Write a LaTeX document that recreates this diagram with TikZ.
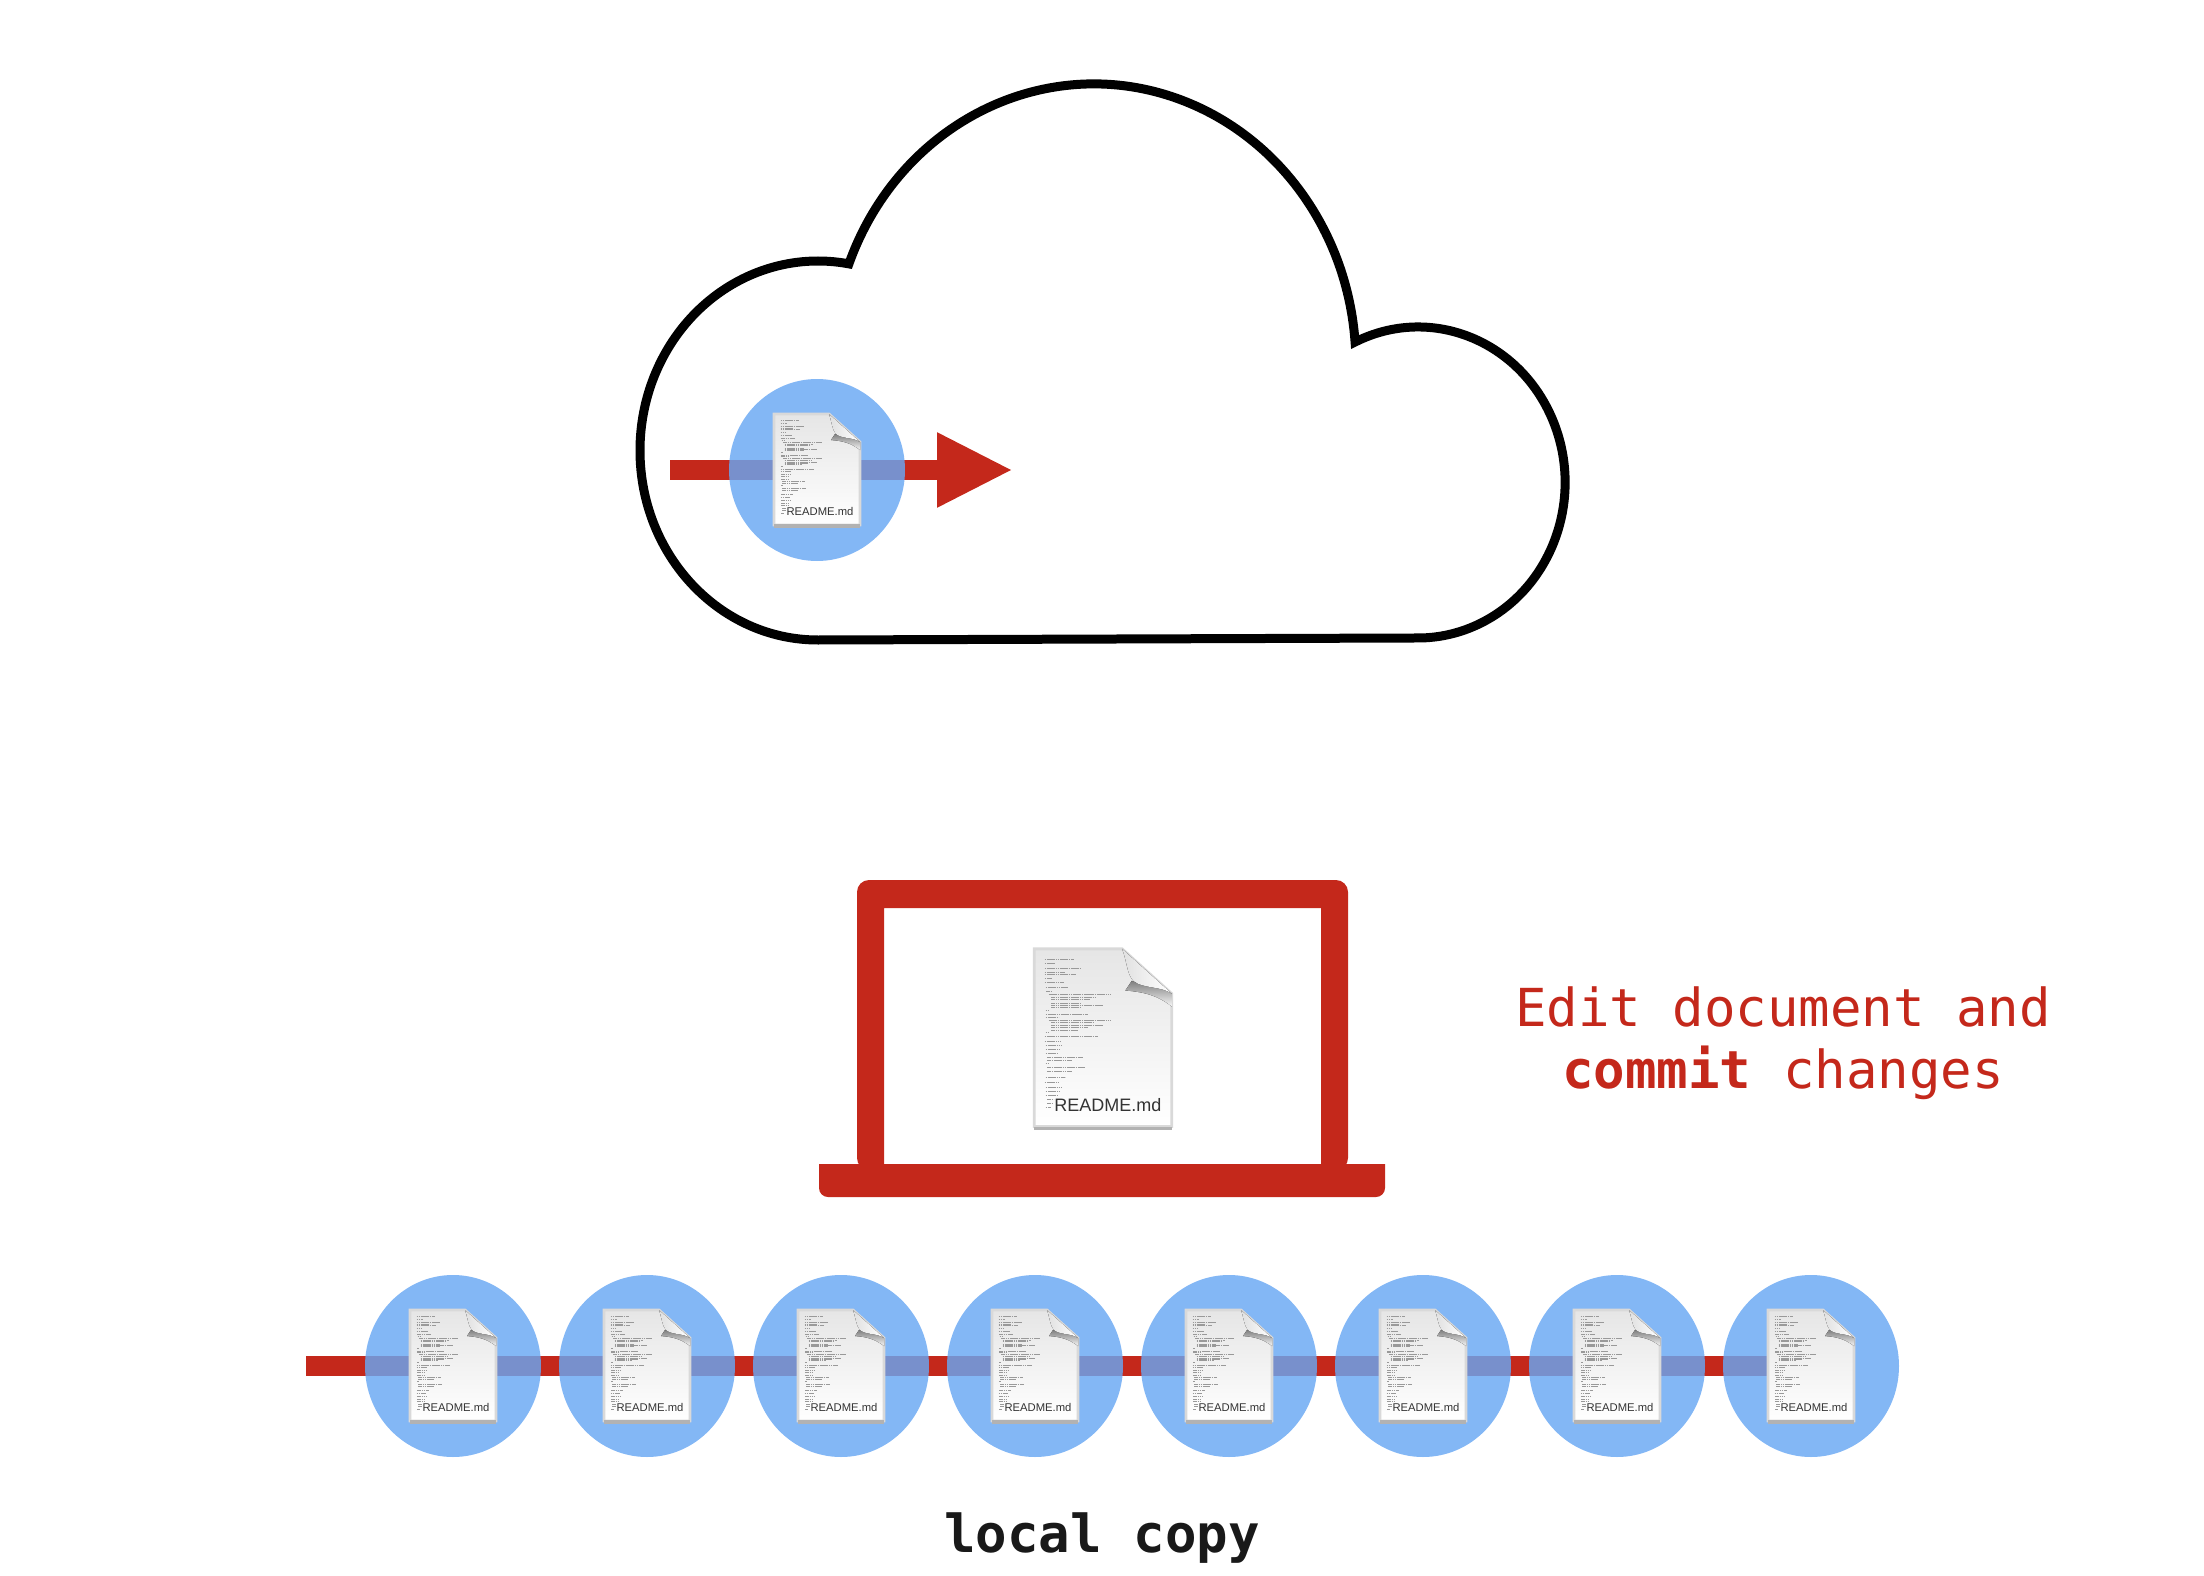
\documentclass[tikz,border=0pt]{standalone}
\usepackage{fontspec}
\setmonofont{DejaVu Sans Mono}
\newfontfamily\labelfont{Liberation Sans}
\usetikzlibrary{arrows.meta,shapes.geometric,backgrounds}
\definecolor{commitred}{HTML}{C4281B}
\definecolor{discblue}{RGB}{104,167,243}

\begin{document}
\begin{tikzpicture}[font=\ttfamily,
  disc/.style={ellipse,fill=discblue,fill opacity=.825,minimum width=1.76cm,minimum height=1.82cm,inner sep=0pt},
  hist/.style={draw=commitred,line width=.2cm},
  msg/.style={text=commitred,align=center,font=\ttfamily\fontsize{14.9}{17.6}\selectfont},
  readme/.pic={
    \fill[top color=black!10,bottom color=white,draw=black!15,line width=.8pt]
      (-.43,.56) -- (.12,.56) -- (.43,.28) -- (.43,-.55) -- (-.43,-.55) -- cycle;
    \draw[black!30,line width=.9pt] (-.43,-.56) -- (.43,-.56);
    \begin{scope}[shift={(-.747,.733)},x=.00204cm,y=-.00206cm]
      \foreach \a/\b/\c in {116/187/278,128/187/218,142/187/300,155/187/250,160/187/282,173/187/210,
        186/187/245,200/190/258,211/192/210,223/200/390,230/207/345,237/207/325,250/207/300,255/207/365,
        262/207/300,270/190/198,282/190/320,290/190/230,300/200/390,308/207/340,316/207/365,322/207/320,
        330/207/290,338/190/198,350/187/350,364/187/238,376/190/240,388/190/232,400/190/228,412/195/305,
        422/195/270,432/190/198,444/195/310,455/195/270,472/190/250,490/187/232,504/190/240,516/190/232,
        528/190/228,540/195/215,552/195/212,564/190/205}
        \draw[black!40,line width=.14pt,dash pattern=on .5pt off .12pt] (\b,\a) -- (\c,\a);
    \end{scope}
    \fill[top color=black!50,bottom color=black!3]
      (.18,.36) .. controls (.24,.33) and (.36,.33) .. (.43,.28) -- (.43,.2) .. controls (.34,.27) and (.26,.29) .. (.14,.3) -- cycle;
    \fill[left color=black!12,right color=white]
      (.12,.56) .. controls (.15,.48) and (.15,.4) .. (.19,.36) .. controls (.25,.31) and (.36,.33) .. (.43,.28) -- cycle;
    \node[transform shape,anchor=base,text=black!80,inner sep=0pt,font=\labelfont\fontsize{3.2}{4}\selectfont] (-label) at (.03,-.455) {README.md};
  }]
  \useasboundingbox (0,0) rectangle (22.04,-15.76);

  % cloud
  \draw[line width=.09cm] (8.18,-6.40)
    arc[start angle=270,end angle=80,x radius=1.78cm,y radius=1.895cm]
    arc[start angle=159.2,end angle=4.3,x radius=2.62cm,y radius=2.79cm]
    arc[start angle=115.4,end angle=-90,x radius=1.47cm,y radius=1.555cm]
    -- cycle;

  % remote copy
  \coordinate (rstart) at (6.70,-4.70);
  \coordinate (rtip) at (10.13,-4.70);
  \node[disc] (rdoc) at (8.17,-4.70) {};
  \pic (rpic) at (rdoc) {readme};
  \begin{pgfonlayer}{background}
    \draw[hist,-{Triangle[length=7.6mm,width=6.95mm]}] (rstart) -- (rtip);
  \end{pgfonlayer}

  % laptop
  \fill[commitred,even odd rule,rounded corners=.12cm] (8.57,-11.70) -- (8.57,-8.80) -- (13.48,-8.80) -- (13.48,-11.70) -- cycle
    [sharp corners] (8.84,-11.70) -- (8.84,-9.08) -- (13.21,-9.08) -- (13.21,-11.70) -- cycle;
  \fill[commitred] (8.19,-11.64) -- (13.85,-11.64) [rounded corners=.09cm] -- (13.85,-11.97) -- (8.19,-11.97) [sharp corners] -- cycle;
  \pic (ldoc) [scale=1.6] at (11.03,-10.385) {readme};
  \node[msg] (edit) at (17.83,-10.43) {Edit document and\\\textbf{commit} changes};

  % local copy
  \coordinate (lstart) at (3.06,-13.66);
  \foreach \i in {0,...,7} {
    \node[disc] (c\i) at ({4.53+1.94*\i},-13.66) {};
    \pic (p\i) at (c\i) {readme};
  }
  \begin{pgfonlayer}{background}
    \draw[hist] (lstart) -- (c7.center);
  \end{pgfonlayer}
  \node[anchor=base,text=black!90,font=\ttfamily\bfseries\fontsize{14.9}{17.6}\selectfont] (local) at (11.02,-15.52) {local copy};
\end{tikzpicture}
\end{document}
